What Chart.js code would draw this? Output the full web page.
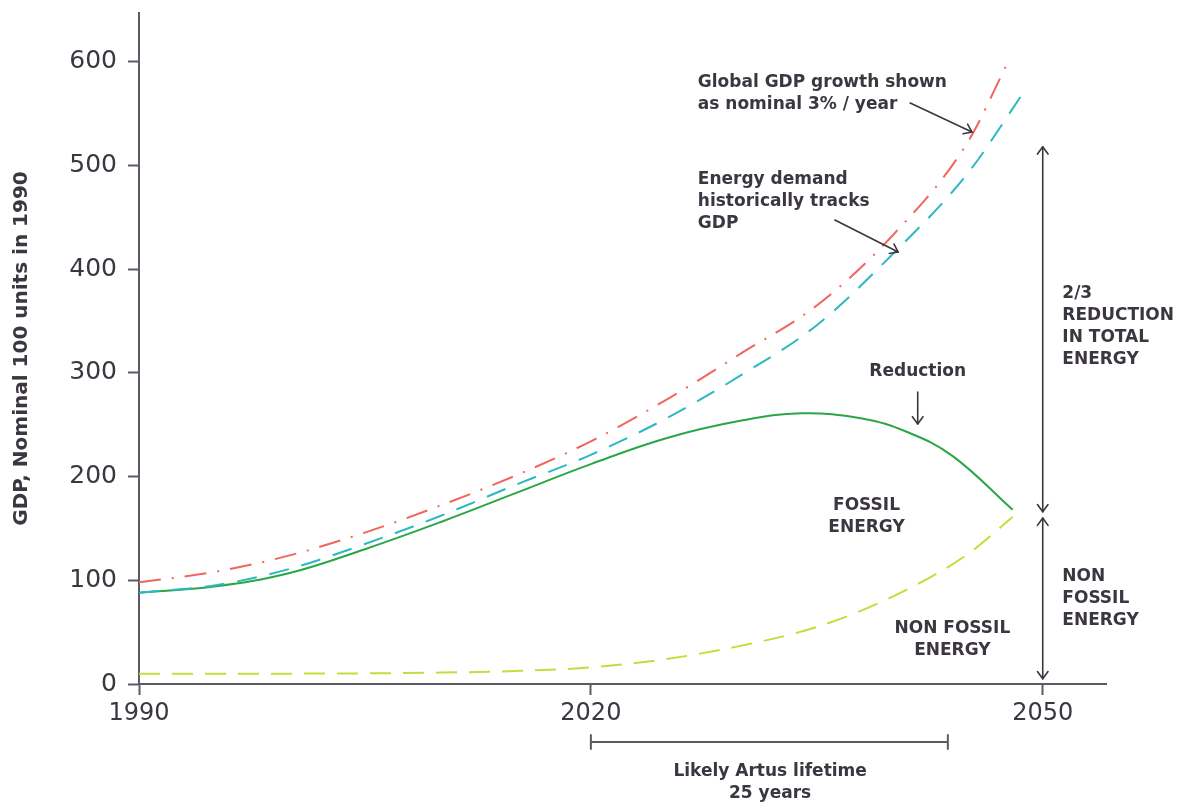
<!DOCTYPE html>
<html>
<head>
<meta charset="utf-8">
<script src="https://cdn.jsdelivr.net/npm/chart.js@4.4.1/dist/chart.umd.min.js"></script>
<style>
  html, body { margin: 0; padding: 0; background: #ffffff; }
  #wrap { width: 1185px; height: 803px; position: relative; }
</style>
</head>
<body>
<div id="wrap"><canvas id="energyChart"></canvas></div>
<script>
// series (years on x, nominal units on y)
const gdpYears = [1990, 1995, 2000, 2005, 2010, 2015, 2020, 2025, 2030, 2035, 2040, 2045, 2047.7];
const gdpValues = [98, 108, 124, 146, 172, 201, 234, 274, 319, 365, 432, 522, 600];

const demandYears = [1990, 1995, 2000, 2005, 2010, 2015, 2020, 2025, 2030, 2035, 2040, 2045, 2048.8];
const demandValues = [88, 95, 111, 135, 162, 192, 221, 256, 298, 346, 414, 492, 572];

const fossilYears = [1990, 1995, 2000, 2005, 2010, 2015, 2020, 2025, 2030, 2034, 2038, 2041, 2044, 2048];
const fossilValues = [88, 94, 107, 130, 156, 184, 212, 237, 254, 261, 256, 243, 220, 168];

const nonFossilYears = [1990, 2000, 2010, 2015, 2020, 2025, 2030, 2035, 2040, 2045, 2048];
const nonFossilValues = [10, 10, 11, 12.5, 16, 24, 37, 55, 84, 125, 161];

const xTickYears = [1990, 2020, 2050];
const yTickValues = [0, 100, 200, 300, 400, 500, 600];

const INK = '#3b3640';
const AXIS = '#5d5a63';

// annotation texts, anchored in data units
const notes = [
  { lines: ['Global GDP growth shown', 'as nominal 3% / year'], x: 2027.1, y: 579.5, align: 'left' },
  { lines: ['Energy demand', 'historically tracks', 'GDP'], x: 2027.1, y: 486, align: 'left' },
  { lines: ['Reduction'], x: 2041.7, y: 300.8, align: 'center' },
  { lines: ['FOSSIL', 'ENERGY'], x: 2038.3, y: 171.6, align: 'center' },
  { lines: ['NON FOSSIL', 'ENERGY'], x: 2044, y: 53, align: 'center' },
  { lines: ['2/3', 'REDUCTION', 'IN TOTAL', 'ENERGY'], x: 2051.3, y: 376, align: 'left' },
  { lines: ['NON', 'FOSSIL', 'ENERGY'], x: 2051.3, y: 103.2, align: 'left' },
  { lines: ['Likely Artus lifetime', '25 years'], x: 2031.9, y: -84.9, align: 'center' }
];

const pointers = [
  { from: [2041.2, 560.2], to: [2045.3, 532.2], both: false },
  { from: [2036.2, 447.4], to: [2040.4, 416.5], both: false },
  { from: [2041.7, 281.6], to: [2041.7, 250.7], both: false },
  { from: [2050, 166], to: [2050, 518], both: true },
  { from: [2050, 5], to: [2050, 160], both: true }
];

const lifetime = { start: 2020, end: 2043.7, y: -55.9 };

function toPoints(xs, ys) {
  return xs.map((x, i) => ({ x: x, y: ys[i] }));
}

function arrowHead(ctx, x1, y1, x2, y2) {
  const ang = Math.atan2(y2 - y1, x2 - x1);
  const len = 9;
  const spread = Math.PI / 5;
  ctx.beginPath();
  ctx.moveTo(x2 - len * Math.cos(ang - spread), y2 - len * Math.sin(ang - spread));
  ctx.lineTo(x2, y2);
  ctx.lineTo(x2 - len * Math.cos(ang + spread), y2 - len * Math.sin(ang + spread));
  ctx.stroke();
}

const annotationPlugin = {
  id: 'annotations',
  afterDraw(chart) {
    const ctx = chart.ctx;
    const xs = chart.scales.x;
    const ys = chart.scales.y;
    ctx.save();
    ctx.strokeStyle = INK;
    ctx.fillStyle = INK;
    ctx.lineWidth = 1.6;
    ctx.lineCap = 'round';
    ctx.lineJoin = 'round';

    notes.forEach(n => {
      const px = xs.getPixelForValue(n.x);
      const py = ys.getPixelForValue(n.y);
      ctx.font = 'bold 17px "DejaVu Sans"';
      ctx.textAlign = n.align;
      ctx.textBaseline = 'middle';
      n.lines.forEach((line, i) => ctx.fillText(line, px, py + i * 22));
    });

    pointers.forEach(p => {
      const x1 = xs.getPixelForValue(p.from[0]);
      const y1 = ys.getPixelForValue(p.from[1]);
      const x2 = xs.getPixelForValue(p.to[0]);
      const y2 = ys.getPixelForValue(p.to[1]);
      ctx.beginPath();
      ctx.moveTo(x1, y1);
      ctx.lineTo(x2, y2);
      ctx.stroke();
      arrowHead(ctx, x1, y1, x2, y2);
      if (p.both) arrowHead(ctx, x2, y2, x1, y1);
    });

    // lifetime bracket under the axis
    const bx1 = xs.getPixelForValue(lifetime.start);
    const bx2 = xs.getPixelForValue(lifetime.end);
    const by = ys.getPixelForValue(lifetime.y);
    ctx.lineWidth = 2;
    ctx.strokeStyle = AXIS;
    ctx.beginPath();
    ctx.moveTo(bx1, by);
    ctx.lineTo(bx2, by);
    ctx.moveTo(bx1, by - 7);
    ctx.lineTo(bx1, by + 7);
    ctx.moveTo(bx2, by - 7);
    ctx.lineTo(bx2, by + 7);
    ctx.stroke();
    ctx.restore();
  }
};

Chart.defaults.font.family = '"DejaVu Sans"';

new Chart(document.getElementById('energyChart'), {
  type: 'line',
  data: {
    datasets: [
      {
        label: 'Global GDP',
        data: toPoints(gdpYears, gdpValues),
        borderColor: '#f0665e',
        borderWidth: 2,
        borderDash: [22, 11, 2, 11],
        pointRadius: 0,
        cubicInterpolationMode: 'monotone'
      },
      {
        label: 'Energy demand',
        data: toPoints(demandYears, demandValues),
        borderColor: '#2cb8c2',
        borderWidth: 2,
        borderDash: [20, 13],
        pointRadius: 0,
        cubicInterpolationMode: 'monotone'
      },
      {
        label: 'Fossil energy',
        data: toPoints(fossilYears, fossilValues),
        borderColor: '#2ba646',
        borderWidth: 2,
        pointRadius: 0,
        tension: 0.4
      },
      {
        label: 'Non fossil energy',
        data: toPoints(nonFossilYears, nonFossilValues),
        borderColor: '#c5dc3c',
        borderWidth: 2,
        borderDash: [21, 12],
        pointRadius: 0,
        cubicInterpolationMode: 'monotone'
      }
    ]
  },
  options: {
    responsive: true,
    maintainAspectRatio: false,
    animation: false,
    layout: {
      padding: { top: 13, right: 79, bottom: 0, left: 0 }
    },
    plugins: {
      legend: { display: false },
      tooltip: { enabled: false }
    },
    scales: {
      x: {
        type: 'linear',
        min: 1990,
        max: 2054.2,
        afterBuildTicks: scale => { scale.ticks = xTickYears.map(v => ({ value: v })); },
        afterFit: scale => {
          scale.height = 119;
          scale.paddingLeft = 0;
          scale.paddingRight = 0;
        },
        ticks: {
          color: INK,
          font: { size: 24 },
          padding: 4,
          maxRotation: 0,
          callback: v => String(v)
        },
        grid: {
          drawOnChartArea: false,
          drawTicks: true,
          tickLength: 11,
          tickWidth: 2,
          tickColor: AXIS
        },
        border: { display: true, color: AXIS, width: 2 }
      },
      y: {
        type: 'linear',
        min: 0,
        max: 647,
        afterBuildTicks: scale => { scale.ticks = yTickValues.map(v => ({ value: v })); },
        afterFit: scale => {
          scale.width = 139;
          scale.paddingTop = 0;
          scale.paddingBottom = 0;
        },
        ticks: {
          color: INK,
          font: { size: 25 },
          padding: 11,
          callback: v => String(v)
        },
        grid: {
          drawOnChartArea: false,
          drawTicks: true,
          tickLength: 11,
          tickWidth: 2,
          tickColor: AXIS
        },
        border: { display: true, color: AXIS, width: 2 },
        title: {
          display: true,
          text: 'GDP, Nominal 100 units in 1990',
          color: INK,
          font: { size: 20, weight: 'bold' },
          padding: { top: 10, bottom: 0 }
        }
      }
    }
  },
  plugins: [annotationPlugin]
});
</script>
</body>
</html>
